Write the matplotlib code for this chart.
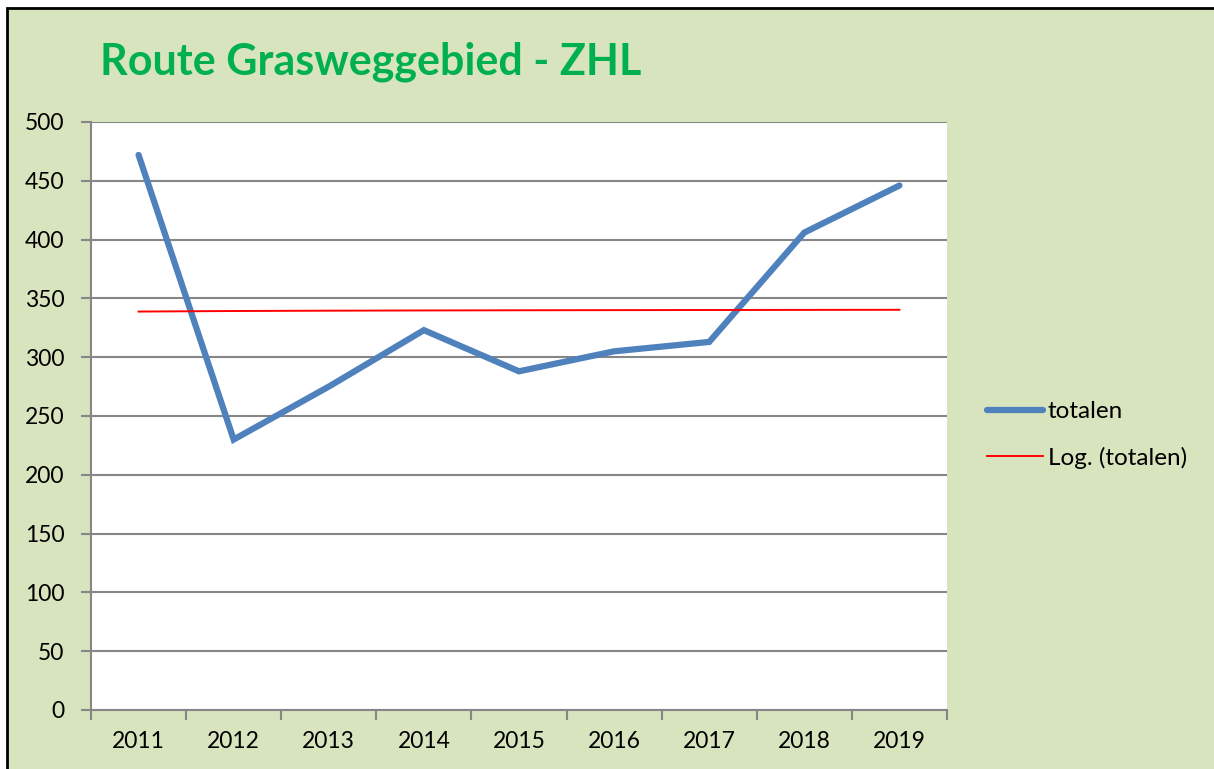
import matplotlib.pyplot as plt
import numpy as np
from matplotlib.patches import Rectangle

years = ['2011', '2012', '2013', '2014', '2015', '2016', '2017', '2018', '2019']
totalen = [472, 230, 275, 323, 288, 305, 313, 406, 446]

# logarithmic trend line like Excel's "Log." trendline
xs = np.arange(1, len(years) + 1)
b, a = np.polyfit(np.log(xs), totalen, 1)
trend = a + b * np.log(xs)

plt.rcParams['font.family'] = ['Lato', 'DejaVu Sans']

W, H = 1214, 769
fig = plt.figure(figsize=(W / 100, H / 100), dpi=100, facecolor='white')
fig.patches.append(Rectangle((7 / W, -0.1), 1.2, 1 - 8 / H + 0.1, transform=fig.transFigure,
                             facecolor='#D7E4BD', edgecolor='black', linewidth=2, zorder=-10))

ax = fig.add_axes([91 / W, 59 / H, (947 - 91) / W, (710 - 122) / H])
ax.set_facecolor('white')
pos = np.arange(len(years))
ax.plot(pos, totalen, color='#4F81BD', linewidth=4.5, solid_capstyle='round',
        solid_joinstyle='miter', label='totalen', zorder=3)
ax.plot(pos, trend, color='#FF0000', linewidth=1.4, label='Log. (totalen)', zorder=3)

ax.set_xlim(-0.5, len(years) - 0.5)
ax.set_ylim(0, 500)
ax.set_yticks(range(0, 501, 50))
ax.set_xticks(np.arange(-0.5, len(years), 1.0))
ax.set_xticklabels([])
ax.set_xticks(pos, minor=True)
ax.set_xticklabels(years, minor=True)
ax.tick_params(axis='x', which='minor', length=0, pad=15, labelsize=16.5)
ax.tick_params(axis='x', which='major', length=7, width=1.5, color='#868686', direction='out')
ax.tick_params(axis='y', length=7, width=1.5, color='#868686', direction='out', labelsize=16.5, pad=12)
ax.grid(axis='y', color='#868686', linewidth=1.5)
ax.set_axisbelow(True)
for s in ['top', 'right']:
    ax.spines[s].set_visible(False)
for s in ['left', 'bottom']:
    ax.spines[s].set_color('#868686')
    ax.spines[s].set_linewidth(1.5)

fig.text(100 / W, 1 - 62 / H, 'Route Grasweggebied - ZHL', color='#00B050',
         fontsize=31, fontweight='bold', va='center', ha='left')

ax.legend(loc='center left', bbox_to_anchor=(965 / W, 1 - 435 / H),
          bbox_transform=fig.transFigure, frameon=False, fontsize=17.5,
          handlelength=2.3, handletextpad=0.2, labelspacing=1.0)

fig.savefig('out.png', dpi=100, facecolor=fig.get_facecolor())
